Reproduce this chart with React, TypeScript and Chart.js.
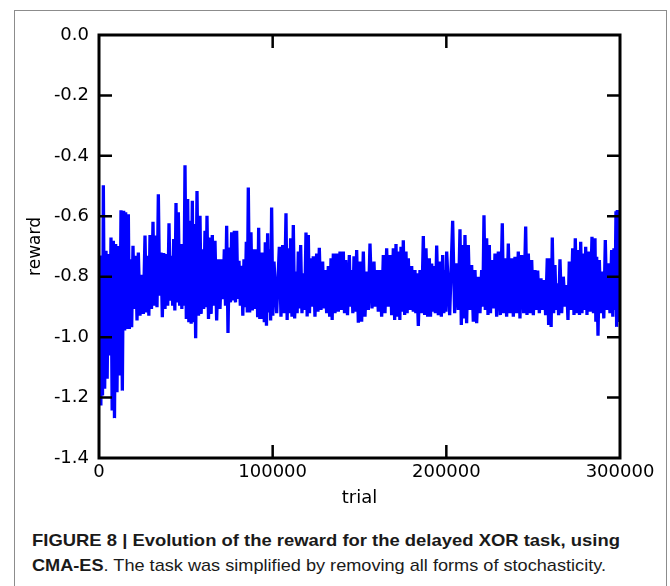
import React, { useEffect, useLayoutEffect, useRef } from "react";
import { Chart, registerables } from "chart.js";

Chart.register(...registerables);

// Trial positions of each local high/low pair
const trials = [
  600, 1540, 2500, 4030, 5370, 6910, 8250, 9590, 11130, 12670, 14200, 15350, 16890, 18040, 19580,
  21120, 22650, 24570, 26490, 28030, 29370, 31090, 32630, 34170, 35700, 37240, 38780, 40310, 41850,
  43000, 44340, 45680, 47220, 48180, 49520, 51060, 52400, 53740, 54890, 56430, 58160, 59500, 61030,
  62180, 63910, 65250, 66790, 68710, 70630, 72160, 73510, 75040, 76380, 77920, 79260, 80610, 82140,
  83480, 84820, 85970, 87510, 89050, 90780, 91930, 93270, 94610, 95760, 97100, 98250, 99400,
  100770, 103830, 105750, 107670, 109010, 110350, 111890, 113430, 114770, 116110, 117650, 119190,
  120530, 121870, 123400, 125320, 126860, 128780, 130130, 132050, 133590, 134930, 136850, 138770,
  140690, 142040, 144150, 145490, 146830, 148370, 150280, 152200, 154120, 156040, 158340, 159880,
  161800, 163720, 165640, 167560, 169480, 171010, 172560, 173890, 175220, 176770, 178110, 180030,
  181950, 182910, 184830, 186750, 188290, 190210, 191560, 192890, 194440, 196350, 197900, 199230,
  200190, 203640, 205930, 207860, 209390, 210730, 212650, 214570, 216500, 218420, 220340, 221680,
  223220, 224750, 226100, 228020, 229940, 232220, 233770, 235690, 237630, 239530, 241430, 243370,
  245690, 247210, 249150, 251050, 252600, 254500, 256230, 258130, 259680, 261010, 262560, 263890,
  265440, 267360, 269290, 270800, 272760, 274260, 275990, 277370, 278870, 280240, 281740, 283870,
  285600, 286570, 288100, 289800, 291540, 293270, 295190, 296530, 297680, 298450,
];

// Local maxima of the reward trace
const highs = [
  -0.742, -0.73, -0.497, -0.714, -0.725, -0.67, -0.681, -0.692, -0.698, -0.58, -0.582, -0.587, -0.593, -0.742, -0.698,
  -0.731, -0.72, -0.794, -0.664, -0.731, -0.662, -0.618, -0.664, -0.527, -0.72, -0.722, -0.725, -0.623, -0.731,
  -0.675, -0.556, -0.587, -0.692, -0.703, -0.431, -0.543, -0.615, -0.549, -0.626, -0.516, -0.598, -0.709, -0.648,
  -0.598, -0.67, -0.662, -0.681, -0.742, -0.742, -0.709, -0.631, -0.703, -0.653, -0.648, -0.648, -0.747, -0.764,
  -0.742, -0.684, -0.505, -0.653, -0.709, -0.709, -0.638, -0.72, -0.72, -0.686, -0.656, -0.709, -0.571,
  -0.75, -0.701, -0.695, -0.59, -0.706, -0.673, -0.629, -0.783, -0.717, -0.695, -0.789, -0.654,
  -0.662, -0.739, -0.732, -0.723, -0.704, -0.75, -0.778, -0.765, -0.739, -0.723, -0.723, -0.717,
  -0.717, -0.745, -0.728, -0.778, -0.732, -0.712, -0.75, -0.717, -0.783, -0.69, -0.75, -0.778,
  -0.778, -0.728, -0.706, -0.728, -0.706, -0.692, -0.717, -0.701, -0.679, -0.717, -0.739, -0.765,
  -0.778, -0.789, -0.778, -0.665, -0.706, -0.739, -0.756, -0.765, -0.697, -0.75, -0.728, -0.778,
  -0.717, -0.615, -0.756, -0.643, -0.695, -0.662, -0.695, -0.761, -0.778, -0.8, -0.778, -0.597,
  -0.673, -0.695, -0.745, -0.723, -0.717, -0.623, -0.739, -0.69, -0.739, -0.734, -0.717, -0.728,
  -0.634, -0.723, -0.745, -0.778, -0.78, -0.805, -0.811, -0.739, -0.739, -0.67, -0.761, -0.822,
  -0.742, -0.8, -0.828, -0.75, -0.706, -0.673, -0.712, -0.684, -0.723, -0.701, -0.717, -0.668,
  -0.673, -0.734, -0.745, -0.783, -0.679, -0.756, -0.712, -0.706, -0.583, -0.579,
];

// Local minima of the reward trace
const lows = [
  -1.226, -1.193, -1.171, -1.138, -1.061, -1.243, -1.268, -1.182, -1.127, -1.177, -0.978, -0.973, -0.973, -0.967, -0.907,
  -0.945, -0.929, -0.923, -0.918, -0.929, -0.907, -0.896, -0.901, -0.863, -0.934, -0.907, -0.896, -0.879, -0.896,
  -0.912, -0.885, -0.896, -0.907, -0.896, -0.94, -0.951, -0.956, -0.951, -1.004, -0.929, -0.923, -0.907, -0.901,
  -0.94, -0.923, -0.896, -0.945, -0.907, -0.874, -0.896, -0.986, -0.885, -0.879, -0.885, -0.874, -0.896, -0.929,
  -0.901, -0.918, -0.918, -0.912, -0.907, -0.934, -0.94, -0.94, -0.951, -0.962, -0.918, -0.945, -0.929,
  -0.921, -0.932, -0.921, -0.943, -0.921, -0.932, -0.938, -0.921, -0.905, -0.921, -0.91, -0.932,
  -0.921, -0.899, -0.932, -0.916, -0.91, -0.905, -0.921, -0.932, -0.943, -0.921, -0.916, -0.91,
  -0.921, -0.927, -0.899, -0.921, -0.916, -0.952, -0.949, -0.932, -0.91, -0.905, -0.899, -0.916,
  -0.932, -0.921, -0.899, -0.927, -0.943, -0.932, -0.943, -0.916, -0.927, -0.921, -0.91, -0.916,
  -0.921, -0.963, -0.921, -0.927, -0.932, -0.932, -0.916, -0.921, -0.927, -0.932, -0.921, -0.916,
  -0.927, -0.921, -0.91, -0.96, -0.938, -0.954, -0.91, -0.949, -0.954, -0.921, -0.899, -0.91,
  -0.927, -0.921, -0.905, -0.932, -0.927, -0.921, -0.932, -0.921, -0.932, -0.921, -0.938, -0.921,
  -0.927, -0.921, -0.927, -0.91, -0.921, -0.91, -0.927, -0.96, -0.966, -0.921, -0.91, -0.927,
  -0.921, -0.899, -0.943, -0.91, -0.927, -0.921, -0.927, -0.921, -0.91, -0.927, -0.916, -0.921,
  -0.949, -0.995, -0.921, -0.938, -0.91, -0.921, -0.932, -0.91, -0.966, -0.95,
];

const X_MIN = 0;
const X_MAX = 300000;
const X_STEP = 100000;
const Y_MIN = -1.4;
const Y_MAX = 0;
const Y_STEP = 0.2;
const X_TITLE = "trial";
const Y_TITLE = "reward";

function buildPoints() {
  const pts: { x: number; y: number }[] = [];
  for (let i = 0; i < trials.length; i++) {
    const next = i + 1 < trials.length ? trials[i + 1] : trials[i] + 800;
    const mid = trials[i] + (next - trials[i]) / 2;
    pts.push({ x: trials[i], y: highs[i] });
    pts.push({ x: mid, y: lows[i] });
  }
  return pts;
}

const framePlugin = {
  id: "frameTicks",
  afterDatasetsDraw(chart: any) {
    const { ctx, chartArea } = chart;
    const { left, right, top, bottom } = chartArea;
    const xs = chart.scales.x;
    const ys = chart.scales.y;
    const len = 13;
    ctx.save();
    ctx.strokeStyle = "#000";
    ctx.lineWidth = 2.5;
    ctx.beginPath();
    xs.ticks.forEach((t: any) => {
      if (t.value <= X_MIN || t.value >= X_MAX) return;
      const px = xs.getPixelForValue(t.value);
      ctx.moveTo(px, bottom);
      ctx.lineTo(px, bottom - len);
      ctx.moveTo(px, top);
      ctx.lineTo(px, top + len);
    });
    ys.ticks.forEach((t: any) => {
      if (t.value <= Y_MIN + 1e-9 || t.value >= Y_MAX - 1e-9) return;
      const py = ys.getPixelForValue(t.value);
      ctx.moveTo(left, py);
      ctx.lineTo(left + len, py);
      ctx.moveTo(right, py);
      ctx.lineTo(right - len, py);
    });
    ctx.stroke();
    ctx.lineWidth = 3;
    ctx.strokeRect(left, top, right - left, bottom - top);
    ctx.restore();
  },
};

function FitLine({ width, children }: { width: number; children: React.ReactNode }) {
  const ref = useRef<HTMLSpanElement>(null);
  useLayoutEffect(() => {
    const el = ref.current;
    if (!el) return;
    el.style.transform = "none";
    const w = el.getBoundingClientRect().width;
    if (w > 0) el.style.transform = `scaleX(${width / w})`;
  }, [width]);
  return (
    <div style={{ height: 25, whiteSpace: "nowrap" }}>
      <span ref={ref} style={{ display: "inline-block", transformOrigin: "0 0", whiteSpace: "nowrap" }}>
        {children}
      </span>
    </div>
  );
}

export default function App() {
  const canvasRef = useRef<HTMLCanvasElement>(null);

  useEffect(() => {
    const canvas = canvasRef.current;
    if (!canvas) return;
    const tickFont = { family: "'DejaVu Sans', sans-serif", size: 18 };
    const chart = new Chart(canvas, {
      type: "line",
      data: {
        datasets: [
          {
            data: buildPoints(),
            borderColor: "#0000ff",
            borderWidth: 3.3,
            pointRadius: 0,
            tension: 0,
            fill: false,
          },
        ],
      },
      options: {
        animation: false,
        responsive: false,
        devicePixelRatio: 1,
        layout: { padding: { left: 0, right: 50, top: 35, bottom: 0 } },
        plugins: { legend: { display: false }, tooltip: { enabled: false } },
        scales: {
          x: {
            type: "linear",
            min: X_MIN,
            max: X_MAX,
            ticks: {
              stepSize: X_STEP,
              autoSkip: false,
              maxRotation: 0,
              color: "#000",
              font: tickFont,
              padding: -4,
              callback: (v: any) => String(v),
            },
            grid: { display: false },
            border: { display: false },
            title: {
              display: true,
              text: X_TITLE,
              color: "#000",
              font: { family: "'DejaVu Sans', sans-serif", size: 18 },
              padding: { top: 0, bottom: 11 },
            },
            afterFit: (s: any) => {
              s.height = 62;
            },
          },
          y: {
            type: "linear",
            min: Y_MIN,
            max: Y_MAX,
            ticks: {
              stepSize: Y_STEP,
              color: "#000",
              font: tickFont,
              padding: 2,
              callback: (v: any) => Number(v).toFixed(1),
            },
            grid: { display: false },
            border: { display: false },
            title: {
              display: true,
              text: Y_TITLE,
              color: "#000",
              font: { family: "'DejaVu Sans', sans-serif", size: 17 },
              padding: { top: 25, bottom: 0 },
            },
            afterFit: (s: any) => {
              s.width = 99;
            },
          },
        },
      },
      plugins: [framePlugin],
    } as any);
    return () => chart.destroy();
  }, []);

  return (
    <div
      style={{
        position: "fixed",
        left: 0,
        top: 0,
        width: 670,
        height: 586,
        background: "#fff",
        overflow: "hidden",
      }}
    >
      <div
        style={{
          position: "absolute",
          left: 14,
          top: 10,
          width: 651,
          height: 620,
          border: "1px solid #8c8c8c",
        }}
      />
      <canvas
        ref={canvasRef}
        width={670}
        height={520}
        style={{ position: "absolute", left: 0, top: 0, width: 670, height: 520 }}
      />
      <div
        style={{
          position: "absolute",
          left: 32,
          top: 528,
          fontFamily: "'Liberation Sans', Arial, sans-serif",
          fontSize: 17,
          lineHeight: "25px",
          color: "#1a1a1a",
        }}
      >
        <FitLine width={588}>
          <b>FIGURE 8 | Evolution of the reward for the delayed XOR task, using</b>
        </FitLine>
        <FitLine width={574}>
          <b>CMA-ES</b>. The task was simplified by removing all forms of stochasticity.
        </FitLine>
      </div>
    </div>
  );
}
